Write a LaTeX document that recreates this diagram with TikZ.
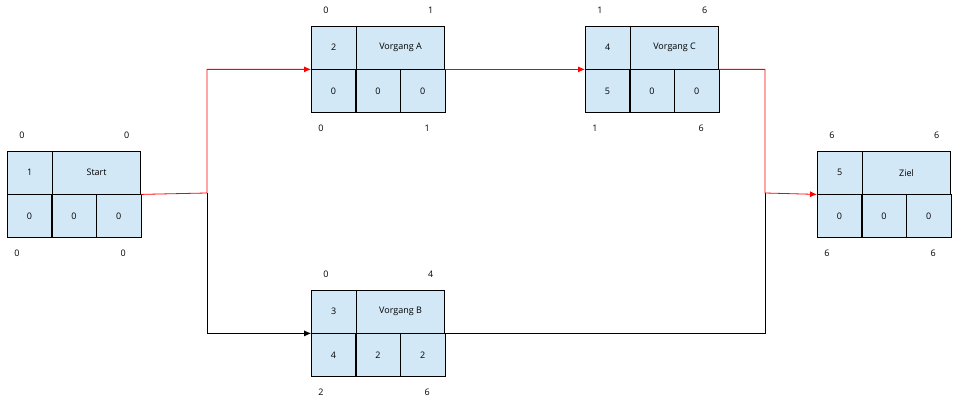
\documentclass[tikz,border=0pt]{standalone}
\usepackage{fontspec}
\setmainfont{Open Sans}
\usetikzlibrary{arrows.meta}
\definecolor{zelle}{HTML}{D2E8F7}
\tikzset{
  cell/.style={draw, fill=zelle, minimum height=43pt, inner sep=0pt, font=\small},
  zahl/.style={font=\small, inner sep=1pt},
  pfeil/.style={-{Latex[length=7pt,width=6pt]}},
  kritisch/.style={red, thick},
}
% #1 name, #2 x, #3 y, #4 nr, #5 title, #6-#8 bottom row
\newcommand\vorgang[8]{%
  \node[cell, anchor=north west, minimum width=45pt] (#1-nr) at (#2,#3) {#4};
  \node[cell, anchor=north west, minimum width=88pt] (#1-name) at (#1-nr.north east) {#5};
  \node[cell, anchor=north west, minimum width=44.3pt] (#1-d) at (#1-nr.south west) {#6};
  \node[cell, anchor=north west, minimum width=44.3pt] (#1-g) at (#1-d.north east) {#7};
  \node[cell, anchor=north west, minimum width=44.3pt] (#1-f) at (#1-g.north east) {#8};
  \coordinate (#1-in) at (#1-nr.south west);
  \coordinate (#1-out) at (#1-f.north east);
}
% #1 name, #2-#5 FAZ FEZ SAZ SEZ
\newcommand\termine[5]{%
  \node[zahl] (#1-faz) at ([shift={(15pt,16pt)}]#1-nr.north west) {#2};
  \node[zahl] (#1-fez) at ([shift={(-14pt,16pt)}]#1-name.north east) {#3};
  \node[zahl] (#1-saz) at ([shift={(10pt,-15pt)}]#1-d.south west) {#4};
  \node[zahl] (#1-sez) at ([shift={(-18pt,-15pt)}]#1-f.south east) {#5};
}
\begin{document}
\begin{tikzpicture}[x=1pt, y=1pt]
  \useasboundingbox (0,0) rectangle (953,404);

  \vorgang{start}{7}{253}{1}{Start}{0}{0}{0}
  \vorgang{a}{311}{378}{2}{Vorgang A}{0}{0}{0}
  \vorgang{c}{585}{378}{4}{Vorgang C}{5}{0}{0}
  \vorgang{b}{311}{114}{3}{Vorgang B}{4}{2}{2}
  \vorgang{ziel}{817}{253}{5}{Ziel}{0}{0}{0}

  \termine{start}{0}{0}{0}{0}
  \termine{a}{0}{1}{0}{1}
  \termine{c}{1}{6}{1}{6}
  \termine{b}{0}{4}{2}{6}
  \termine{ziel}{6}{6}{6}{6}

  \coordinate (j1) at (207,211);
  \coordinate (j2) at (765,211);

  \draw[pfeil] (j1) |- (b-in);
  \draw (b-out) -| (j2);
  \draw[kritisch, pfeil] (start-out) -- (j1) |- (a-in);
  \draw[kritisch, pfeil] (a-out) -- (c-in);
  \draw[kritisch, pfeil] (c-out) -| (j2) -- (ziel-in);
\end{tikzpicture}
\end{document}
